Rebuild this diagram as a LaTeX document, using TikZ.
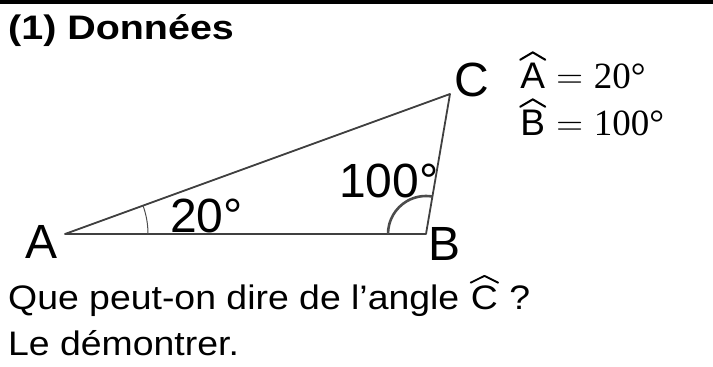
\documentclass[tikz,border=0pt]{standalone}
\usepackage{fix-cm}
\usepackage{fontspec}
\setmainfont{Liberation Sans}[FakeStretch=1.1]
\newfontfamily\lblfont{Liberation Sans}
\newfontfamily\titlefont{Liberation Sans Bold}[FakeStretch=1.16]
\newfontfamily\numfont{Liberation Serif}
\usepackage{tikz}

% letter with a wide hat
\newcommand\chapeau[1]{\begin{tikzpicture}[baseline=(let.base)]
    \node[inner sep=0pt] (let) {#1};
    \draw[line width=0.055em, line join=round, line cap=round]
      ([yshift=0.07em]let.north west) -- ([yshift=0.27em]let.north) -- ([yshift=0.07em]let.north east);
  \end{tikzpicture}}
\newcommand\egal{\hspace{10pt}$=$\hspace{11pt}}

\begin{document}
\begin{tikzpicture}[x=1pt, y=-1pt, line join=round,
    side/.style={draw=black!75, line width=1.8pt},
    lbl/.style={inner sep=0pt, anchor=base, font=\lblfont\fontsize{48}{56}\selectfont},
    txt/.style={inner sep=0pt, anchor=base west, font=\fontsize{34}{40}\selectfont},
    eq/.style={inner sep=0pt, anchor=base west, font=\fontsize{37}{44}\selectfont}]
    \useasboundingbox (0,0) rectangle (713,367);
    \draw[line width=3.5pt] (0,2) -- (713,2);
    \node[txt, font=\titlefont\fontsize{34}{40}\selectfont] (title) at (8,39) {(1) Données};
    % triangle
    \coordinate (A) at (65,234);
    \coordinate (B) at (426,234);
    \coordinate (C) at (450,94);
    \draw[side] (A) -- (B) -- (C) -- cycle;
    \draw[black!70, line width=1pt] (A) ++(83pt,0) arc[start angle=0, end angle=20, radius=83pt];
    \draw[black!70, line width=2.6pt] (B) ++(-38pt,0) arc[start angle=180, end angle=80.3, radius=38pt];
    \node[lbl] (lA) at (42,258) {A};
    \node[lbl] (lB) at (445,260) {B};
    \node[lbl] (lC) at (472,96) {C};
    \node[lbl, anchor=base west] (aA) at (170,232) {20°};
    \node[lbl, anchor=base west] (aB) at (339,197) {100°};
    % donnees
    \node[eq] (eqA) at (519,88) {\lblfont\chapeau{A}\egal\numfont 20°};
    \node[eq] (eqB) at (519,135) {\lblfont\chapeau{B}\egal\numfont 100°};
    % question
    \node[txt] (q1) at (8,309) {Que peut-on dire de l’angle \chapeau{C} ?};
    \node[txt] (q2) at (8,355) {Le démontrer.};
\end{tikzpicture}
\end{document}
